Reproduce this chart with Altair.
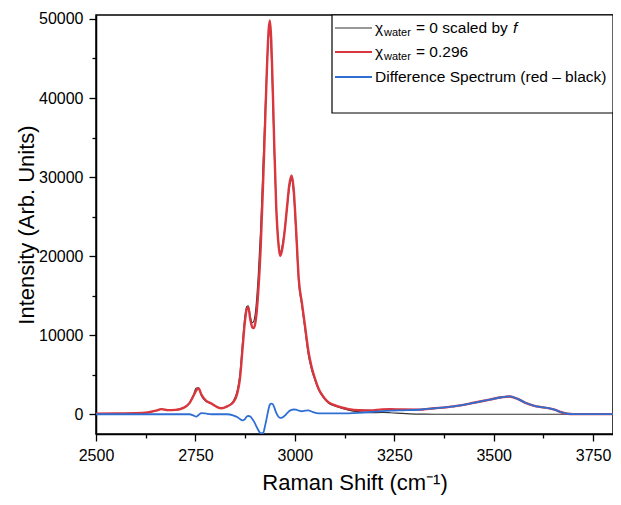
import altair as alt
import pandas as pd

# Raman shift grid (cm^-1)
shift = [2500, 2550, 2600, 2630, 2650, 2665, 2680, 2700, 2720, 2735, 2745, 2752, 2758, 2765,
         2775, 2790, 2805, 2815, 2830, 2845, 2855, 2862, 2868, 2874, 2879, 2883, 2888, 2893,
         2897, 2902, 2908, 2914, 2920, 2925, 2930, 2934, 2937, 2940, 2944, 2948, 2953, 2958,
         2963, 2968, 2974, 2980, 2986, 2992, 2997, 3003, 3010, 3018, 3026, 3034, 3042, 3050,
         3060, 3072, 3085, 3100, 3115, 3135, 3160, 3190, 3220, 3240, 3270, 3310, 3350, 3400,
         3450, 3490, 3520, 3540, 3560, 3580, 3600, 3620, 3640, 3655, 3670, 3685, 3700, 3750, 3800]

# chi_water = 0.296 (red)
red = [80, 90, 120, 220, 450, 650, 520, 550, 800, 1400, 2300, 3000, 3250, 2500,
       1800, 1350, 900, 750, 1000, 1500, 2600, 4500, 8000, 11500, 13300, 13500, 12000, 11000,
       10900, 12000, 15500, 21000, 29000, 36500, 44000, 48500, 49800, 48000, 42000, 34500, 26500, 22000,
       20000, 20800, 23000, 26000, 29000, 30200, 28500, 23500, 17000, 14000, 11000, 8000, 6000, 4600,
       3200, 2200, 1500, 1150, 900, 650, 500, 480, 620, 640, 600, 580, 750, 1000,
       1450, 1850, 2150, 2250, 1950, 1450, 1100, 900, 750, 550, 250, 60, 20, 10, 10]

# chi_water = 0 scaled by f (black)
black = [80, 90, 120, 220, 450, 650, 520, 550, 800, 1400, 2450, 3300, 3350, 2350,
         1700, 1350, 900, 750, 1000, 1650, 2950, 5100, 8780, 12150, 13600, 13720, 12300, 11600,
         11800, 13400, 17500, 23400, 31400, 38000, 44300, 47800, 48600, 46650, 40700, 33600, 26300, 22250,
         20450, 21220, 23200, 25900, 28600, 29650, 27900, 22920, 16550, 13620, 10550, 7500, 5650, 4400,
         3080, 2100, 1400, 1050, 800, 530, 320, 200, 220, 190, 100, 10, 0, 0,
         0, 0, 0, 0, 0, 0, 0, 0, 0, 0, 0, 0, 0, 0, 0]

# Difference spectrum (blue)
blue = [0, 0, 0, 0, 0, 0, 0, 0, 0, 0, -150, -300, -100, 150,
        100, 0, 0, 0, 0, -150, -350, -600, -780, -650, -300, -220, -300, -600,
        -900, -1400, -2000, -2400, -2400, -1500, -300, 700, 1200, 1350, 1300, 900, 200, -250,
        -450, -420, -200, 100, 400, 550, 600, 580, 450, 380, 450, 500, 350, 200,
        120, 100, 100, 100, 100, 120, 180, 280, 400, 450, 500, 570, 750, 1000,
        1450, 1850, 2150, 2250, 1950, 1450, 1100, 900, 750, 550, 250, 60, 20, 10, 10]

x_major = [2500, 2750, 3000, 3250, 3500, 3750]
x_minor = [2625, 2875, 3125, 3375, 3625]
y_major = [0, 10000, 20000, 30000, 40000, 50000]
y_minor = [5000, 15000, 25000, 35000, 45000]

FONT = "Liberation Sans"
W, H = 517, 419

df_red = pd.DataFrame({"x": shift, "y": red})
df_black = pd.DataFrame({"x": shift, "y": black})
df_blue = pd.DataFrame({"x": shift, "y": blue})

xscale = alt.Scale(domain=[2500, 3800], nice=False, zero=False)
yscale = alt.Scale(domain=[-2500, 50500], nice=False, zero=False)

xaxis = alt.Axis(
    title="Raman Shift (cm⁻¹)", values=sorted(x_major + x_minor),
    labelExpr="datum.value % 250 === 0 ? datum.label : ''",
    tickSize={"condition": {"test": "datum.value % 250 === 0", "value": 7}, "value": 4},
    format="d", grid=False, labelFontSize=16, titleFontSize=22, labelPadding=6,
    titlePadding=9, labelFont=FONT, titleFont=FONT, titleFontWeight="normal",
    domainColor="black", tickColor="black", labelColor="black", titleColor="black",
    domainWidth=1.5, tickWidth=1.3, labelFlush=False,
)
yaxis = alt.Axis(
    title="Intensity (Arb. Units)", values=sorted(y_major + y_minor),
    labelExpr="datum.value % 10000 === 0 ? datum.label : ''",
    tickSize={"condition": {"test": "datum.value % 10000 === 0", "value": 7}, "value": 4},
    format="d", grid=False, labelFontSize=16, titleFontSize=22, labelPadding=6,
    titlePadding=0, labelFont=FONT, titleFont=FONT, titleFontWeight="normal",
    domainColor="black", tickColor="black", labelColor="black", titleColor="black",
    domainWidth=1.5, tickWidth=1.3, labelFlush=False,
)

def line(df, color, width):
    return alt.Chart(df).mark_line(color=color, strokeWidth=width, interpolate="monotone", clip=True).encode(
        x=alt.X("x:Q", scale=xscale, axis=xaxis),
        y=alt.Y("y:Q", scale=yscale, axis=yaxis),
    )

black_line = line(df_black, "#333333", 1.2)
red_line = line(df_red, "#d9363e", 2.4)
blue_line = line(df_blue, "#2f6fd3", 1.8)

# Legend (drawn manually to allow the subscript)
legend_box = alt.Chart(pd.DataFrame({"a": [0]})).mark_rect(
    fill="white", stroke="black", strokeWidth=1.2
).encode(x=alt.value(236), x2=alt.value(517), y=alt.value(0), y2=alt.value(98))

leg_colors = ["#333333", "#d9363e", "#2f6fd3"]
leg_widths = [1.2, 2.0, 1.8]
leg_rows = [13, 37, 62]
legend_layers = [legend_box]
for c, w, r in zip(leg_colors, leg_widths, leg_rows):
    legend_layers.append(
        alt.Chart(pd.DataFrame({"a": [0]})).mark_rule(color=c, strokeWidth=w).encode(
            x=alt.value(239), x2=alt.value(276), y=alt.value(r), y2=alt.value(r)
        )
    )

def txt(s, x, y, size=15.5, style="normal", baseline="middle"):
    return alt.Chart(pd.DataFrame({"t": [s]})).mark_text(
        align="left", baseline=baseline, font=FONT, fontSize=size, fontStyle=style, color="black"
    ).encode(x=alt.value(x), y=alt.value(y), text="t:N")

legend_layers += [
    txt("χ", 279, 13), txt("water", 288, 18, size=11), txt("= 0 scaled by", 320, 13),
    txt("f", 417, 13, style="italic"),
    txt("χ", 279, 37), txt("water", 288, 42, size=11), txt("= 0.296", 320, 37),
    txt("Difference Spectrum (red – black)", 279, 62),
]

chart = alt.layer(black_line, red_line, blue_line, *legend_layers).properties(
    width=W, height=H,
    autosize=alt.AutoSizeParams(type="none"),
    padding={"left": 88, "top": 7, "right": 0, "bottom": 63},
).configure_view(stroke="black", strokeWidth=1.5)

chart.save("out.html", embed_options={"renderer": "svg", "actions": False})
